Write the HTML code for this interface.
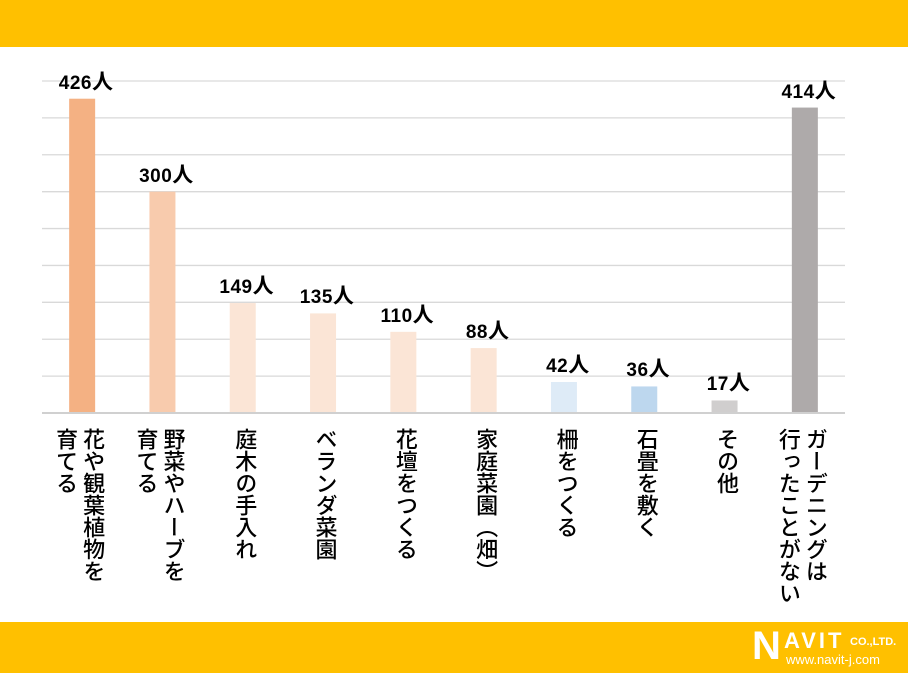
<!DOCTYPE html>
<html><head><meta charset="utf-8">
<style>
body{margin:0;width:908px;height:673px;background:#fff;position:relative;overflow:hidden;font-family:"Liberation Sans","Noto Sans CJK JP",sans-serif;}
.band{position:absolute;left:0;width:908px;background:#FFC000;}
.lbl{position:absolute;top:428px;writing-mode:vertical-rl;font-size:22px;line-height:27px;color:#000;font-weight:500;transform:translateX(-50%);white-space:pre;}
.val{position:absolute;font-size:19px;font-weight:bold;transform:translateX(-50%);white-space:nowrap;letter-spacing:0.5px;}
.val span{font-size:21px;}
</style></head><body>
<div class="band" style="top:0;height:47px"></div>
<div class="band" style="top:622px;height:51px"></div>
<div style="position:absolute;left:752px;top:626px;color:#fff;">
 <span style="position:absolute;left:0;top:0;font-size:40px;font-weight:bold;line-height:40px;">N</span>
 <span style="position:absolute;left:32px;top:2px;font-size:22px;font-weight:bold;letter-spacing:3px;">AVIT</span>
 <span style="position:absolute;left:98px;top:10px;font-size:11px;font-weight:bold;white-space:nowrap;">CO.,LTD.</span>
 <span style="position:absolute;left:34px;top:26px;font-size:13px;white-space:nowrap;">www.navit-j.com</span>
</div>
<svg id="chart" width="908" height="673" style="position:absolute;left:0;top:0"></svg>
<script>
const categories=["花や観葉植物を\n育てる","野菜やハーブを\n育てる","庭木の手入れ","ベランダ菜園","花壇をつくる","家庭菜園（畑）","柵をつくる","石畳を敷く","その他","ガーデニングは\n行ったことがない"];
const values=[426,300,149,135,110,88,42,36,17,414];
const valueLabels=["426","300","149","135","110","88","42","36","17","414"];
const colors=["#F4B183","#F8CBAD","#FBE5D6","#FBE5D6","#FBE5D6","#FBE5D6","#DEEBF7","#BDD7EE","#D0CECE","#AEAAAA"];
const gridTicks=[50,100,150,200,250,300,350,400,450];
const svg=document.getElementById('chart');const NS='http://www.w3.org/2000/svg';
const x0=42,x1=845,y0=413,yMax=450,yTop=81;
const band=(x1-x0)/categories.length;
const xc=i=>x0+band*(i+0.5);
const y=v=>y0-(v/yMax)*(y0-yTop);
gridTicks.forEach(t=>{const l=document.createElementNS(NS,'line');


l.setAttribute('x1',x0);l.setAttribute('x2',x1);l.setAttribute('y1',y(t));l.setAttribute('y2',y(t));l.setAttribute('stroke','#D9D9D9');l.setAttribute('stroke-width','1.3');svg.appendChild(l);});
values.forEach((v,i)=>{const r=document.createElementNS(NS,'rect');


r.setAttribute('x',xc(i)-13);r.setAttribute('width',26);r.setAttribute('y',y(v));r.setAttribute('height',y0-y(v));r.setAttribute('fill',colors[i]);svg.appendChild(r);
const d=document.createElement('div');d.className='val';d.innerHTML=valueLabels[i]+'<span>人</span>';


d.style.left=(xc(i)+4)+'px';d.style.top=(y(v)-33)+'px';document.body.appendChild(d);
const c=document.createElement('div');c.className='lbl';c.textContent=categories[i];


c.style.left=(xc(i)+(categories[i].includes('\n')?-3:2))+'px';document.body.appendChild(c);});
const ax=document.createElementNS(NS,'line');


ax.setAttribute('x1',x0);ax.setAttribute('x2',x1);ax.setAttribute('y1',y0);ax.setAttribute('y2',y0);ax.setAttribute('stroke','#D0D0D0');ax.setAttribute('stroke-width','2');svg.appendChild(ax);
</script>
</body></html>
